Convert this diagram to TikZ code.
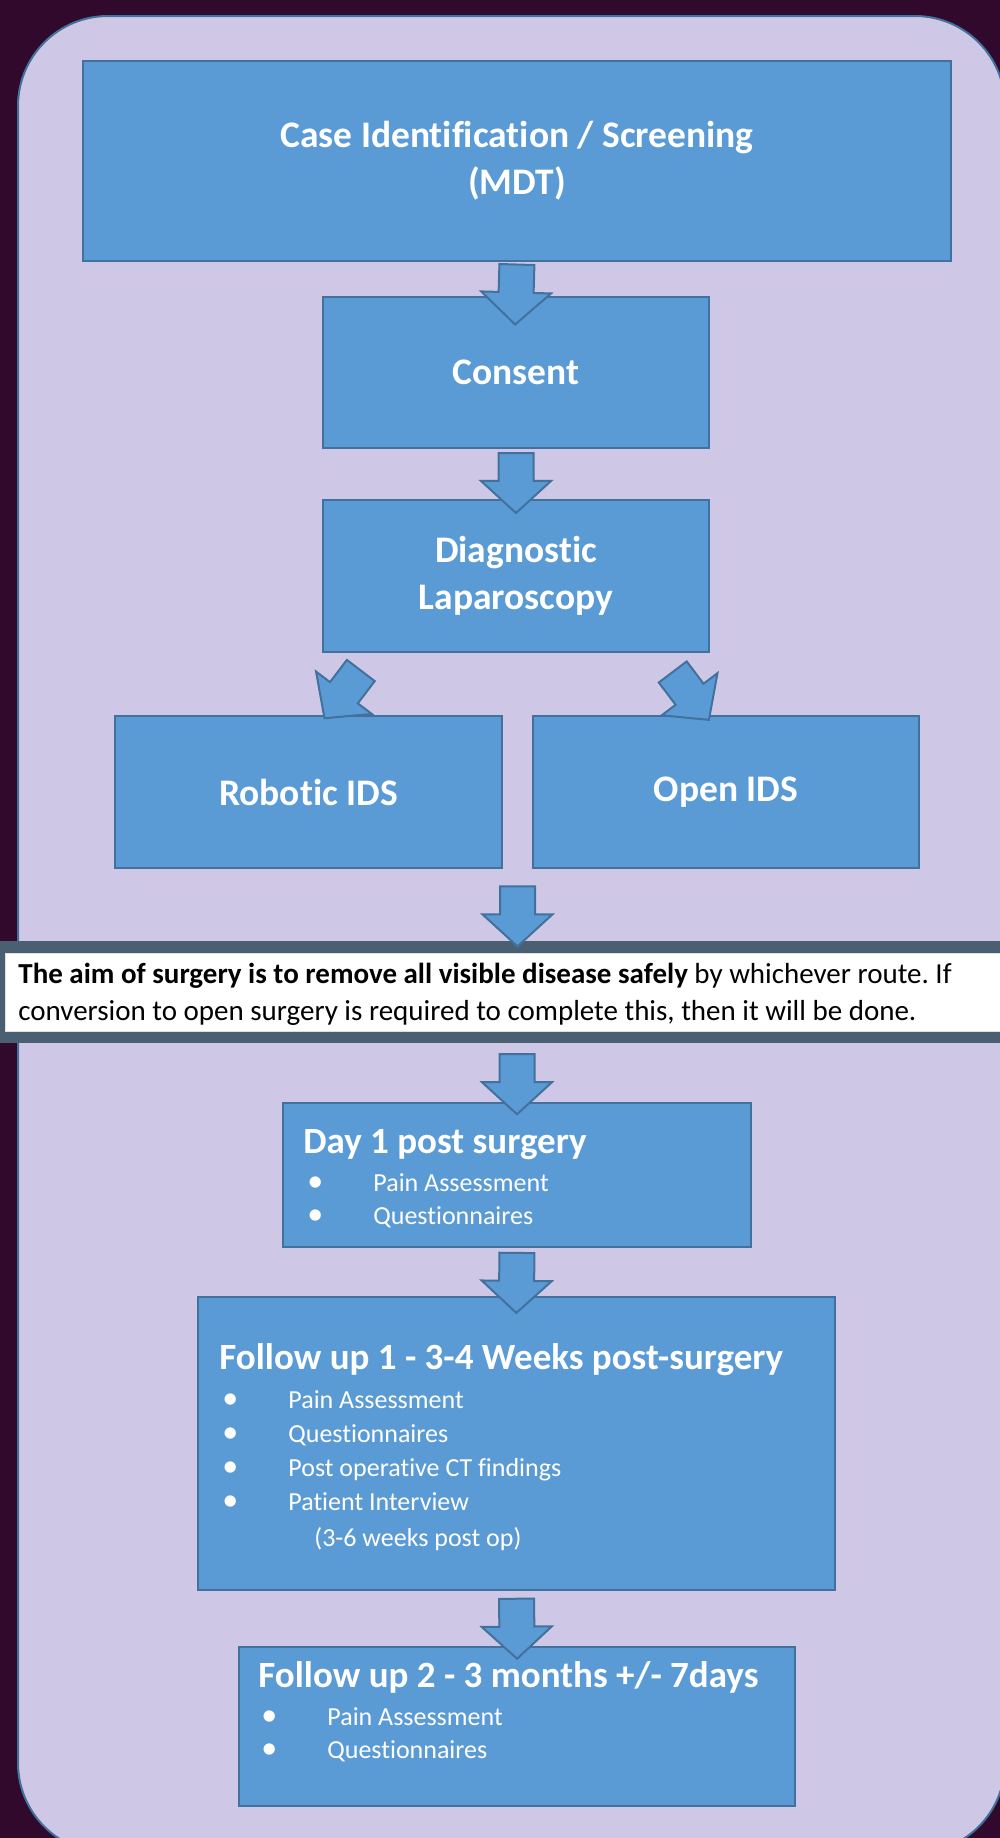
\documentclass[tikz,border=0pt]{standalone}
\usepackage{fontspec}
\setmainfont{Carlito}[Ligatures=NoCommon]
\usepackage{xcolor}
\usetikzlibrary{shapes.arrows,calc,positioning}
\definecolor{bgpurple}{RGB}{48,9,44}
\definecolor{lav}{RGB}{206,200,230}
\definecolor{boxblue}{RGB}{91,155,213}
\definecolor{boxedge}{RGB}{65,113,156}
\definecolor{band}{RGB}{74,96,114}
\newcommand{\bul}{\makebox[33pt][l]{\fontsize{16}{16}\selectfont\textbullet}}
\frenchspacing

\begin{document}
\begin{tikzpicture}[x=0.5pt, y=-0.5pt,
    box/.style={draw=boxedge, fill=boxblue, line width=1pt, text=white, inner sep=0pt,
      align=center, font=\fontsize{18.75}{23.5}\selectfont\bfseries},
    blockarrow/.style={single arrow, draw=boxedge, fill=boxblue, line width=1pt,
      inner xsep=0pt, inner ysep=8.25pt, minimum height=30pt,
      single arrow head extend=8.75pt, single arrow tip angle=95,
      sloped, allow upside down},
    head/.style={anchor=base west, text=white, inner sep=0pt, font=\fontsize{18.5}{22}\selectfont\bfseries},
    item/.style={anchor=base west, text=white, inner sep=0pt, font=\fontsize{13}{16}\selectfont},
    note/.style={anchor=base west, inner sep=0pt, font=\fontsize{14.5}{18}\selectfont}]
    \useasboundingbox (0,0) rectangle (1000,1838);
    \clip (0,0) rectangle (1000,1838);
    \fill[bgpurple] (0,0) rectangle (1000,1838);
    \draw[boxedge, fill=lav, line width=1pt, rounded corners=45pt] (18,16) rectangle (1005,1853);

    % top part of the pathway
    \node[box, minimum width=434pt, minimum height=100pt] (case) at (517,161) {Case Identification / Screening\\(MDT)};
    \node[box, minimum width=193pt, minimum height=75.5pt] (consent) at (516,372.5) {Consent};
    \node[box, minimum width=193pt, minimum height=76pt] (diag) at (516,576) {Diagnostic\\Laparoscopy};
    \node[box, minimum width=193.5pt, minimum height=76pt] (robotic) at (308.5,792) {Robotic IDS};
    \node[box, minimum width=193pt, minimum height=76pt] (open) at (726,792) {Open IDS};

    % banner
    \node[fill=band, inner sep=0pt, minimum width=500pt, minimum height=51pt] (band) at (500,992) {};
    \node[fill=white, draw=gray!25, line width=0.5pt, inner sep=0pt, minimum width=500pt, minimum height=39pt] (notebox) at (505,992) {};
    \node[note] (note1) at (18,983) {\textbf{The aim of surgery is to remove all visible disease safely} by whichever route. If};
    \node[note] (note2) at (18,1020) {conversion to open surgery is required to complete this, then it will be done.};

    % follow up boxes
    \node[box, minimum width=234pt, minimum height=72pt] (day1) at (517,1175) {};
    \node[head] (day1t) at (303,1153) {Day 1 post surgery};
    \foreach \t [count=\i] in {Pain Assessment, Questionnaires}
      \node[item] (day1i\i) at (307,{1191+33*(\i-1)}) {\bul\t};

    \node[box, minimum width=318.5pt, minimum height=146.5pt] (fu1) at (516.5,1443.5) {};
    \node[head] (fu1t) at (219,1369) {Follow up 1 - 3-4 Weeks post-surgery};
    \foreach \t [count=\i] in {Pain Assessment, Questionnaires, Post operative CT findings, Patient Interview}
      \node[item] (fu1i\i) at (222,{1408+34.3*(\i-1)}) {\bul\t};
    \node[item] (fu1p) at (314,1546) {(3-6 weeks post op)};

    \node[box, minimum width=278pt, minimum height=79.5pt] (fu2) at (517,1726.5) {};
    \node[head] (fu2t) at (258,1687) {Follow up 2 - 3 months +/- 7days};
    \foreach \t [count=\i] in {Pain Assessment, Questionnaires}
      \node[item] (fu2i\i) at (261,{1725+33*(\i-1)}) {\bul\t};

    % block arrows
    \path (case.south) -- (consent.north) node[blockarrow, pos=.72] (a1) {};
    \path (consent.south) -- (diag.north) node[blockarrow, pos=.52] (a2) {};
    \path ($(diag.south west)+(43,12)$) -- ($(robotic.north)+(21.5,-4)$) node[blockarrow, midway] (a3) {};
    \path ($(diag.south east)+(-41,14)$) -- ($(open.north)+(-23,-3)$) node[blockarrow, midway] (a4) {};
    \coordinate (split) at ($(robotic.south east)!.5!(open.south west)$);
    \path (split) -- (split |- band.north) node[blockarrow, pos=.55] (a5) {};
    \path (band.south -| day1.north) -- (day1.north) node[blockarrow, pos=.56] (a6) {};
    \path (day1.south) -- (fu1.north) node[blockarrow, pos=.56] (a7) {};
    \path (fu1.south) -- (fu2.north) node[blockarrow, pos=.54] (a8) {};
\end{tikzpicture}
\end{document}
